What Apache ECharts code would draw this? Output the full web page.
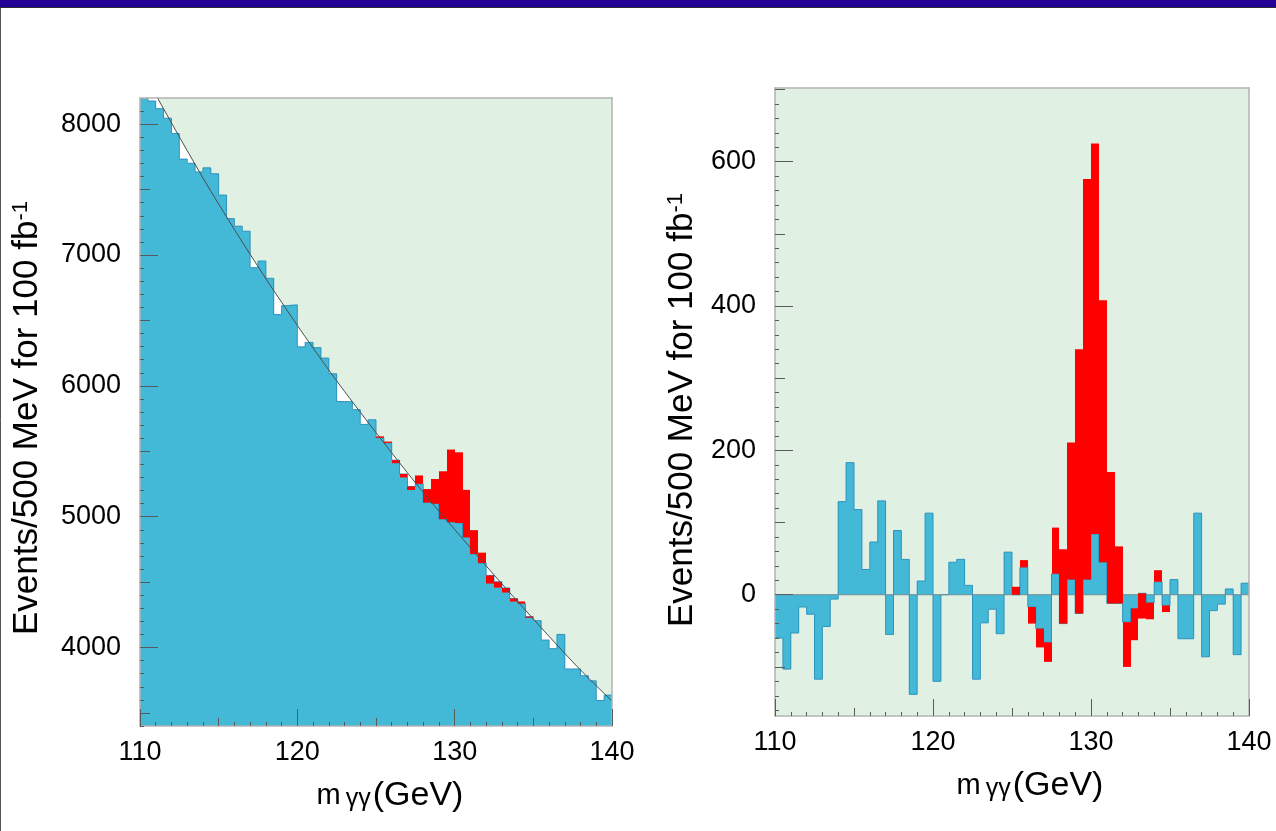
<!DOCTYPE html>
<html>
<head>
<meta charset="utf-8">
<script src="https://cdn.jsdelivr.net/npm/echarts@6/dist/echarts.min.js"></script>
<style>
html,body{margin:0;padding:0;background:#ffffff;}
#chart{width:1276px;height:831px;}
</style>
</head>
<body>
<div id="chart"></div>
<script>
// ---- data ----
// bin edges (500 MeV bins), GeV
const binEdges = [110.0,110.5,111.0,111.5,112.0,112.5,113.0,113.5,114.0,114.5,
  115.0,115.5,116.0,116.5,117.0,117.5,118.0,118.5,119.0,119.5,
  120.0,120.5,121.0,121.5,122.0,122.5,123.0,123.5,124.0,124.5,
  125.0,125.5,126.0,126.5,127.0,127.5,128.0,128.5,129.0,129.5,
  130.0,130.5,131.0,131.5,132.0,132.5,133.0,133.5,134.0,134.5,
  135.0,135.5,136.0,136.5,137.0,137.5,138.0,138.5,139.0,139.5,140.0];

// smooth background fit curve, value at each bin edge (left panel)
const fitEdges = [8445,8335,8226,8117,8010,7903,7798,7693,7589,7488,
  7389,7292,7195,7100,7005,6912,6819,6728,6639,6550,
  6462,6375,6290,6205,6121,6038,5957,5878,5799,5720,
  5642,5565,5488,5411,5335,5260,5185,5113,5042,4972,
  4902,4832,4762,4693,4624,4555,4487,4419,4352,4285,
  4218,4151,4085,4020,3955,3890,3828,3767,3708,3649,3591];

// left panel: background-only events per bin
const leftBackground = [8330,8177,8118,8046,7929,7733,7701,7635,7666,7621,
  7458,7278,7220,7182,6903,6954,6822,6545,6613,6619,
  6298,6332,6292,6212,6092,5880,5878,5818,5705,5740,
  5603,5564,5432,5326,5231,5251,5108,5098,4981,4958,
  4951,4842,4715,4646,4551,4502,4455,4374,4336,4236,
  4205,4057,3991,4100,3836,3836,3784,3745,3595,3636];

// right panel: background minus fit, per bin
const bkgResidual = [-60,-103,-53,-17,-27,-117,-44,-6,129,183,
  118,35,73,130,-55,89,49,-138,19,113,
  -120,0,45,49,13,-117,-39,-20,-54,59,
  0,38,-17,-47,-66,29,-40,21,-26,21,
  84,45,-12,-12,-38,-19,2,-11,18,-15,
  21,-61,-61,113,-86,-22,-13,8,-83,16];

// signal contribution (red), per bin, stacked on the background
const signalExcess = [0,0,0,0,0,0,0,0,0,0,
  0,0,0,0,0,0,0,0,0,0,
  0,0,0,0,0,0,0,0,0,0,
  11,10,-23,-26,-27,64,103,190,366,555,
  541,363,182,79,-62,-44,-35,-23,16,-9,
  0,0,0,0,0,0,0,0,0,0];

// tick labels / tick positions
const xLabels = [110,120,130,140];
const xMidTicks = [115,125,135];
const leftYLabels = [4000,5000,6000,7000,8000];
const leftYMid = [3500,4500,5500,6500,7500];
const rightYLabels = [0,200,400,600];
const rightYMid = [-100,100,300,500,700];

function range(a, b, step) { const r = []; for (let v = a; v <= b + 1e-9; v += step) r.push(Math.round(v * 100) / 100); return r; }
const xMinorTicks = range(111, 139, 1);
const leftYMinor = range(3400, 8100, 100);
const rightYMinor = range(-160, 700, 20);

// ---- styling ----
const FONT = '"Liberation Sans", Arial, Helvetica, sans-serif';
const C = { bg: '#e0f1e4', blue: '#43b8d7', blueEdge: '#2e93bd', red: '#ff0000',
  frame: '#b2b2b2', tick: '#5a5a5a', fit: '#4d4d4d', zero: '#6f8c90' };

const LEFT = { min: 3400, max: 8200 };
const RIGHT = { min: -168, max: 702 };
const plain = function (v) { return String(v); };

function rectSeries(xi, yi, data, color, z) {
  return {
    type: 'custom', xAxisIndex: xi, yAxisIndex: yi, clip: true, z: z || 2,
    data: data, encode: { x: [0, 1], y: [2, 3] }, silent: true,
    renderItem: function (params, api) {
      const a = api.coord([api.value(0), api.value(2)]);
      const b = api.coord([api.value(1), api.value(3)]);
      const x0 = Math.round(a[0]), x1 = Math.round(b[0]);
      const y0 = Math.min(a[1], b[1]), y1 = Math.max(a[1], b[1]);
      return { type: 'rect', shape: { x: x0, y: y0, width: x1 - x0, height: y1 - y0 }, style: { fill: color } };
    }
  };
}

function stepOutline(xi, yi, values, color, z) {
  const pts = values.map((v, i) => [binEdges[i], v]);
  pts.push([binEdges[binEdges.length - 1], values[values.length - 1]]);
  return { type: 'line', xAxisIndex: xi, yAxisIndex: yi, step: 'end', data: pts, showSymbol: false,
    symbol: 'none', silent: true, z: z || 3, lineStyle: { color: color, width: 1 }, clip: true };
}

function xAxes(gi) {
  const base = { type: 'value', gridIndex: gi, min: 110, max: 140, z: 10, splitLine: { show: false },
    axisLine: { show: false, onZero: false }, axisLabel: { show: false }, axisTick: { show: false } };
  const tl = { color: C.tick, width: 1 };
  return [
    Object.assign({}, base, { position: 'bottom',
      axisLine: { show: true, onZero: false, lineStyle: { color: C.frame, width: 1.5 } },
      axisTick: { show: true, inside: true, length: 17, customValues: xLabels, lineStyle: tl },
      axisLabel: { show: true, customValues: xLabels, margin: 13, fontSize: 27, fontFamily: FONT, color: '#000', formatter: plain } }),
    Object.assign({}, base, { position: 'bottom',
      axisTick: { show: true, inside: true, length: 8, customValues: xMidTicks, lineStyle: tl } }),
    Object.assign({}, base, { position: 'bottom',
      axisTick: { show: true, inside: true, length: 4, customValues: xMinorTicks, lineStyle: tl } }),
    Object.assign({}, base, { position: 'top',
      axisLine: { show: true, onZero: false, lineStyle: { color: C.frame, width: 1.5 } } })
  ];
}

function yAxes(gi, lim, labels, mid, minor) {
  const base = { type: 'value', gridIndex: gi, min: lim.min, max: lim.max, z: 10, splitLine: { show: false },
    axisLine: { show: false, onZero: false }, axisLabel: { show: false }, axisTick: { show: false } };
  const tl = { color: C.tick, width: 1 };
  return [
    Object.assign({}, base, { position: 'left',
      axisLine: { show: true, onZero: false, lineStyle: { color: C.frame, width: 1.5 } },
      axisTick: { show: true, inside: true, length: 18, customValues: labels, lineStyle: tl },
      axisLabel: { show: true, customValues: labels, margin: 19, fontSize: 27, fontFamily: FONT, color: '#000', formatter: plain } }),
    Object.assign({}, base, { position: 'left',
      axisTick: { show: true, inside: true, length: 10, customValues: mid, lineStyle: tl } }),
    Object.assign({}, base, { position: 'left',
      axisTick: { show: true, inside: true, length: 4, customValues: minor, lineStyle: tl } }),
    Object.assign({}, base, { position: 'right',
      axisLine: { show: true, onZero: false, lineStyle: { color: C.frame, width: 1.5 } } })
  ];
}

// ---- build series data from the arrays ----
const nBins = leftBackground.length;
const leftBlue = [], leftRed = [], rightBlue = [], rightRed = [];
for (let i = 0; i < nBins; i++) {
  const x0 = binEdges[i], x1 = binEdges[i + 1];
  leftBlue.push([x0, x1, 0, leftBackground[i]]);
  rightBlue.push([x0, x1, 0, bkgResidual[i]]);
  if (signalExcess[i] !== 0) {
    leftRed.push([x0, x1, leftBackground[i], leftBackground[i] + signalExcess[i]]);
    rightRed.push([x0, x1, bkgResidual[i], bkgResidual[i] + signalExcess[i]]);
  }
}
const fitPoints = binEdges.map((m, i) => [m, fitEdges[i]]);

const yTitle = function (x, y) {
  return { type: 'text', x: x, y: y, rotation: Math.PI / 2, z: 100,
    style: { text: 'Events/500 MeV for 100 fb{sup|-1}', fontSize: 35, fontFamily: FONT, fill: '#000',
      align: 'center', verticalAlign: 'middle',
      rich: { sup: { fontSize: 22, fontFamily: FONT, fill: '#000', verticalAlign: 'top', lineHeight: 35 } } } };
};
const xTitle = function (x, y) {
  return { type: 'text', x: x, y: y, z: 100,
    style: { text: '{m|m}{g|γγ}{p|(GeV)}', align: 'center', verticalAlign: 'middle', fill: '#000',
      rich: { m: { fontSize: 29, fontFamily: FONT, fill: '#000', padding: [0, 5, 0, 0] },
              g: { fontSize: 25, fontFamily: FONT, fill: '#000', padding: [7, 2, 0, 0] },
              p: { fontSize: 34, fontFamily: FONT, fill: '#000' } } } };
};

const option = {
  animation: false,
  backgroundColor: '#ffffff',
  grid: [
    { left: 140, top: 98, width: 472, height: 628, show: true, backgroundColor: C.bg, borderWidth: 0 },
    { left: 775, top: 88, width: 474, height: 628, show: true, backgroundColor: C.bg, borderWidth: 0 }
  ],
  xAxis: xAxes(0).concat(xAxes(1)),
  yAxis: yAxes(0, LEFT, leftYLabels, leftYMid, leftYMinor).concat(yAxes(1, RIGHT, rightYLabels, rightYMid, rightYMinor)),
  series: [
    // left panel
    { type: 'line', xAxisIndex: 0, yAxisIndex: 0, data: fitPoints, showSymbol: false, symbol: 'none', silent: true,
      z: 1, lineStyle: { width: 0, opacity: 0 }, areaStyle: { color: '#ffffff', opacity: 1, origin: 'start' }, clip: true },
    rectSeries(0, 0, leftBlue, C.blue, 2),
    stepOutline(0, 0, leftBackground, C.blueEdge, 3),
    rectSeries(0, 0, leftRed, C.red, 4),
    { type: 'line', xAxisIndex: 0, yAxisIndex: 0, data: fitPoints, showSymbol: false, symbol: 'none', silent: true,
      z: 5, lineStyle: { color: C.fit, width: 1 }, clip: true },
    // right panel
    rectSeries(4, 4, rightBlue, C.blue, 2),
    stepOutline(4, 4, bkgResidual, C.blueEdge, 3),
    { type: 'line', xAxisIndex: 4, yAxisIndex: 4, data: [[110, 0], [140, 0]], showSymbol: false, symbol: 'none',
      silent: true, z: 3, lineStyle: { color: C.zero, width: 1 } },
    rectSeries(4, 4, rightRed, C.red, 4)
  ],
  graphic: [
    { type: 'rect', shape: { x: 0, y: 0, width: 1276, height: 7 }, style: { fill: '#230096' }, z: 100 },
    { type: 'line', shape: { x1: 0, y1: 7.5, x2: 1276, y2: 7.5 }, style: { stroke: '#2a2a2a', lineWidth: 1 }, z: 100 },
    { type: 'line', shape: { x1: 0.5, y1: 8, x2: 0.5, y2: 831 }, style: { stroke: '#555555', lineWidth: 1 }, z: 100 },
    yTitle(27, 418),
    yTitle(682, 410),
    xTitle(390, 796),
    xTitle(1030, 786)
  ]
};

const chart = echarts.init(document.getElementById('chart'), null, { renderer: 'canvas' });
chart.setOption(option);
</script>
</body>
</html>
